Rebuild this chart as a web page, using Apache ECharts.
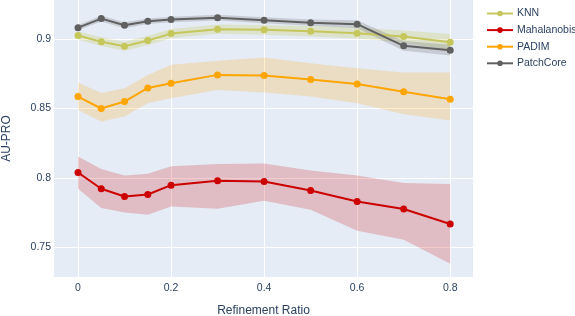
<!DOCTYPE html>
<html>
<head>
<meta charset="utf-8">
<script src="https://cdn.jsdelivr.net/npm/echarts@6/dist/echarts.min.js"></script>
<style>html,body{margin:0;padding:0;background:#fff}#c{width:575px;height:316px}</style>
</head>
<body>
<div id="c"></div>
<script>
const ratios = [0, 0.05, 0.1, 0.15, 0.2, 0.3, 0.4, 0.5, 0.6, 0.7, 0.8];
const xTicks = [0, 0.2, 0.4, 0.6, 0.8];
const yTicks = [0.75, 0.8, 0.85, 0.9];

const knnMean = [0.9024, 0.8980, 0.8947, 0.8988, 0.9038, 0.9070, 0.9065, 0.9055, 0.9041, 0.9017, 0.8976];
const knnUpper = [0.9055, 0.9012, 0.8980, 0.9022, 0.9072, 0.9103, 0.9100, 0.9092, 0.9080, 0.9060, 0.9036];
const knnLower = [0.8993, 0.8948, 0.8914, 0.8954, 0.9004, 0.9037, 0.9030, 0.9018, 0.9002, 0.8974, 0.8916];

const mahaMean = [0.8038, 0.7921, 0.7866, 0.7880, 0.7947, 0.7978, 0.7974, 0.7909, 0.7830, 0.7775, 0.7667];
const mahaUpper = [0.8153, 0.8063, 0.8017, 0.8029, 0.8084, 0.8099, 0.8103, 0.8052, 0.8017, 0.7962, 0.7955];
const mahaLower = [0.7921, 0.7782, 0.7750, 0.7734, 0.7794, 0.7777, 0.7835, 0.7770, 0.7619, 0.7554, 0.7381];

const padimMean = [0.8585, 0.8499, 0.8549, 0.8647, 0.8681, 0.8741, 0.8736, 0.8707, 0.8676, 0.8619, 0.8566];
const padimUpper = [0.8686, 0.8610, 0.8645, 0.8741, 0.8813, 0.8842, 0.8866, 0.8825, 0.8789, 0.8758, 0.8758];
const padimLower = [0.8489, 0.8405, 0.8441, 0.8537, 0.8573, 0.8633, 0.8614, 0.8585, 0.8537, 0.8458, 0.8412];

const patchMean = [0.9081, 0.9146, 0.9098, 0.9127, 0.9139, 0.9153, 0.9134, 0.9117, 0.9106, 0.8950, 0.8919];
const patchUpper = [0.9100, 0.9166, 0.9120, 0.9147, 0.9159, 0.9173, 0.9155, 0.9140, 0.9135, 0.8985, 0.8958];
const patchLower = [0.9062, 0.9126, 0.9076, 0.9107, 0.9119, 0.9133, 0.9113, 0.9094, 0.9077, 0.8915, 0.8880];

const methods = [
  {name: 'KNN', color: '#c5c75c', fill: 'rgba(188,189,34,0.2)', mean: knnMean, up: knnUpper, lo: knnLower},
  {name: 'Mahalanobis', color: '#cc0000', fill: 'rgba(204,0,0,0.2)', mean: mahaMean, up: mahaUpper, lo: mahaLower},
  {name: 'PADIM', color: '#ffa500', fill: 'rgba(255,165,0,0.2)', mean: padimMean, up: padimUpper, lo: padimLower},
  {name: 'PatchCore', color: '#606060', fill: 'rgba(80,80,80,0.2)', mean: patchMean, up: patchUpper, lo: patchLower}
];

const font = '"Liberation Sans", Arial, sans-serif';
const txt = '#2a3f5f';
const series = [];
methods.forEach(m => {
  series.push({
    type: 'custom',
    name: m.name + ' band',
    silent: true,
    clip: true,
    z: 1,
    data: ratios.map((x, i) => [x, m.lo[i], m.up[i]]),
    encode: {x: 0, y: [1, 2]},
    renderItem: (params, api) => {
      if (params.dataIndex !== 0) return null;
      const pts = [];
      for (let i = 0; i < ratios.length; i++) pts.push(api.coord([ratios[i], m.up[i]]));
      for (let i = ratios.length - 1; i >= 0; i--) pts.push(api.coord([ratios[i], m.lo[i]]));
      return {type: 'polygon', shape: {points: pts}, style: {fill: m.fill, stroke: null}};
    }
  });
});
methods.forEach(m => {
  series.push({
    type: 'line',
    name: m.name,
    z: 3,
    data: ratios.map((x, i) => [x, m.mean[i]]),
    symbol: 'circle',
    symbolSize: 7,
    lineStyle: {color: m.color, width: 2},
    itemStyle: {color: m.color},
    emphasis: {disabled: true}
  });
});

const chart = echarts.init(document.getElementById('c'), null, {renderer: 'canvas'});
chart.setOption({
  animation: false,
  backgroundColor: '#fff',
  textStyle: {fontFamily: font},
  grid: {left: 54, right: 102, top: 0, bottom: 39, show: true, backgroundColor: '#e5ecf6', borderWidth: 0, containLabel: false, outerBoundsMode: 'none'},
  legend: {
    orient: 'vertical', left: 486, top: 7.5, padding: 0, itemWidth: 26, itemHeight: 7, itemGap: 4.6,
    data: methods.map(m => m.name),
    textStyle: {color: txt, fontSize: 10.5, lineHeight: 12, fontFamily: font, padding: [0, 0, 0, -1]}
  },
  xAxis: {
    type: 'value', min: -0.0516, max: 0.849,
    name: 'Refinement Ratio', nameLocation: 'middle', nameGap: 28,
    nameTextStyle: {color: txt, fontSize: 12, fontFamily: font},
    axisLine: {show: false}, axisTick: {show: false, customValues: xTicks},
    axisLabel: {customValues: xTicks, color: txt, fontSize: 10.5, margin: 6, fontFamily: font},
    splitLine: {show: true, lineStyle: {color: '#fff', width: 1}}
  },
  yAxis: {
    type: 'value', min: 0.7286, max: 0.928,
    name: 'AU-PRO', nameLocation: 'middle', nameGap: 41, nameRotate: 90,
    nameTextStyle: {color: txt, fontSize: 12, fontFamily: font},
    axisLine: {show: false}, axisTick: {show: false, customValues: yTicks},
    axisLabel: {customValues: yTicks, color: txt, fontSize: 10.5, margin: 3, fontFamily: font},
    splitLine: {show: true, lineStyle: {color: '#fff', width: 1}}
  },
  series: series
});
</script>
</body>
</html>
